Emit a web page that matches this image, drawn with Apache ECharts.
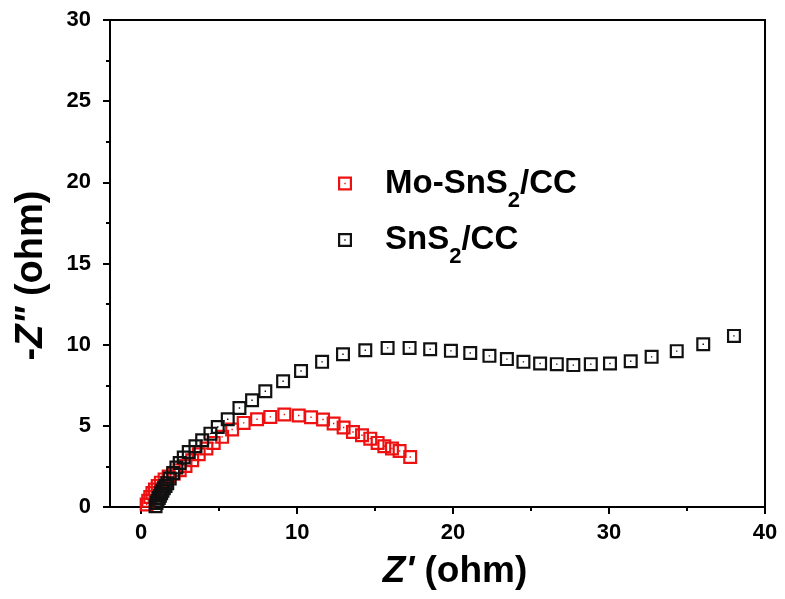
<!DOCTYPE html>
<html>
<head>
<meta charset="utf-8">
<script src="https://cdn.jsdelivr.net/npm/echarts@6/dist/echarts.min.js"></script>
<style>html,body{margin:0;padding:0;background:#fff;}#c{width:785px;height:599px;}</style>
</head>
<body>
<div id="c"></div>
<script>
// Data: [Z' (ohm), -Z'' (ohm)]
var moSnS2 = [[0.35,0.15],[0.45,0.38],[0.58,0.62],[0.72,0.86],[0.88,1.08],[1.06,1.3],[1.26,1.5],[1.5,1.7],[1.76,1.88],[2.08,2.05],[2.47,2.26],[2.84,2.53],[3.27,2.88],[3.69,3.25],[4.18,3.6],[4.65,3.95],[5.19,4.32],[5.83,4.77],[6.57,5.18],[7.43,5.41],[8.28,5.55],[9.18,5.7],[10.1,5.64],[10.89,5.53],[11.66,5.39],[12.34,5.14],[12.98,4.9],[13.58,4.62],[14.16,4.42],[14.69,4.21],[15.16,3.95],[15.59,3.74],[16.08,3.6],[16.57,3.45],[17.25,3.08]];
var snS2 = [[0.92,0.05],[0.98,0.25],[1.05,0.4],[1.13,0.55],[1.2,0.7],[1.28,0.85],[1.36,1.0],[1.45,1.15],[1.56,1.3],[1.67,1.46],[1.83,1.75],[2.05,2.1],[2.26,2.43],[2.47,2.71],[2.73,3.05],[3.05,3.39],[3.48,3.74],[3.91,4.11],[4.44,4.52],[4.91,4.93],[5.55,5.41],[6.3,6.1],[7.11,6.58],[7.96,7.13],[9.1,7.75],[10.25,8.38],[11.6,8.94],[12.94,9.41],[14.37,9.66],[15.8,9.8],[17.21,9.8],[18.53,9.72],[19.86,9.62],[21.1,9.49],[22.33,9.31],[23.45,9.11],[24.51,8.94],[25.58,8.84],[26.65,8.8],[27.71,8.74],[28.83,8.8],[30.06,8.84],[31.39,8.98],[32.73,9.25],[34.34,9.6],[36.04,10.03],[38.01,10.54]];
var xMajorTicks = [0,10,20,30,40];
var xMinorTicks = [5,15,25,35];
var seriesNames = ['Mo-SnS2/CC','SnS2/CC'];

var FONT = "'Liberation Sans', Arial, sans-serif";
var SYM = 'path://M0 0H14V14H0Z M2.2 2.2V11.8H11.8V2.2Z M6.3 6.3H7.7V7.7H6.3Z';
var chart = echarts.init(document.getElementById('c'), null, {renderer:'canvas'});
var legendLabels = {
  'Mo-SnS2/CC': '{a|Mo-SnS}{s|2}{a|/CC}',
  'SnS2/CC': '{a|SnS}{s|2}{a|/CC}'
};
chart.setOption({
  backgroundColor:'#fff',
  animation:false,
  grid:{left:110,right:20,top:20,bottom:92,show:true,borderColor:'#000',borderWidth:2,backgroundColor:'transparent'},
  legend:{
    data:seriesNames,
    orient:'vertical',left:338,top:167,padding:0,itemGap:12,
    itemWidth:14,itemHeight:14,
    icon:SYM,
    formatter:function(n){return legendLabels[n];},
    textStyle:{
      padding:[0,0,0,28],
      rich:{
        a:{fontFamily:FONT,fontWeight:'bold',fontSize:33,color:'#000',lineHeight:56,verticalAlign:'middle'},
        s:{fontFamily:FONT,fontWeight:'bold',fontSize:22,color:'#000',lineHeight:20,verticalAlign:'bottom'}
      }
    }
  },
  xAxis:[{
    type:'value',min:-2,max:40,
    name:"{i|Z'}{n| (ohm)}",nameLocation:'middle',nameGap:45,
    nameTextStyle:{padding:[0,0,0,35],rich:{
      i:{fontFamily:FONT,fontWeight:'bold',fontStyle:'italic',fontSize:37,color:'#000',lineHeight:40},
      n:{fontFamily:FONT,fontWeight:'bold',fontSize:37,color:'#000',lineHeight:40}}},
    axisLine:{show:true,onZero:false,lineStyle:{color:'#000',width:2}},
    axisTick:{show:true,inside:false,length:7,customValues:xMajorTicks,lineStyle:{color:'#000',width:2}},
    axisLabel:{customValues:xMajorTicks,margin:15,fontFamily:FONT,fontWeight:'bold',fontSize:22,color:'#000'},
    splitLine:{show:false}
  },{
    type:'value',min:-2,max:40,position:'bottom',
    axisLine:{show:false,onZero:false},
    axisTick:{show:true,inside:false,length:4,customValues:xMinorTicks,lineStyle:{color:'#000',width:2}},
    axisLabel:{show:false},
    splitLine:{show:false}
  }],
  yAxis:{
    type:'value',min:0,max:30,interval:5,
    name:'{n|-}{i|Z"}{n| (ohm)}',nameLocation:'middle',nameRotate:90,nameGap:58,
    nameTextStyle:{padding:[0,24,0,0],rich:{
      i:{fontFamily:FONT,fontWeight:'bold',fontStyle:'italic',fontSize:38,color:'#000',lineHeight:40},
      n:{fontFamily:FONT,fontWeight:'bold',fontSize:38,color:'#000',lineHeight:40}}},
    axisLine:{show:true,onZero:false,lineStyle:{color:'#000',width:2}},
    axisTick:{show:true,inside:false,length:7,lineStyle:{color:'#000',width:2}},
    minorTick:{show:true,splitNumber:2,length:4,lineStyle:{color:'#000',width:2}},
    axisLabel:{margin:19,fontFamily:FONT,fontWeight:'bold',fontSize:22,color:'#000'},
    splitLine:{show:false},minorSplitLine:{show:false}
  },
  series:[{
    name:seriesNames[0],type:'scatter',data:moSnS2,symbol:SYM,symbolSize:14,
    itemStyle:{color:'#ee1111',opacity:1},xAxisIndex:0
  },{
    name:seriesNames[1],type:'scatter',data:snS2,symbol:SYM,symbolSize:14,
    itemStyle:{color:'#111111',opacity:1},xAxisIndex:0
  }]
});
</script>
</body>
</html>
